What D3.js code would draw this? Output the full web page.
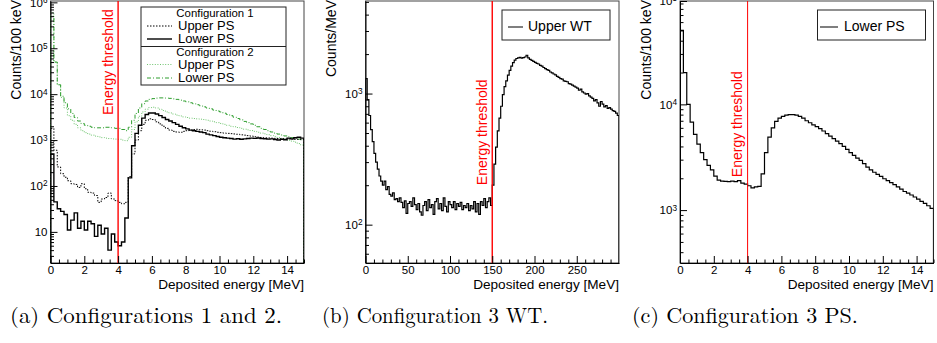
<!DOCTYPE html>
<html>
<head>
<meta charset="utf-8">
<script src="https://d3js.org/d3.v7.min.js"></script>
<style>
  body { margin: 0; background: #fff; }
  svg { display: block; font-family: 'Liberation Sans', Arial, Helvetica, sans-serif; }
</style>
</head>
<body>
<svg id="chart" width="937" height="343"></svg>
<script>
// Bin widths (MeV)
const psBinWidth = 0.2
const wtBinWidth = 2

// (a) Configuration 1 / Configuration 2, counts per bin, 0 - 15 MeV
const c1UpperPS = [
  1800, 600, 260, 185, 155, 130, 112, 108, 93, 112,
  87, 73, 70, 62, 44, 52, 56, 70, 52, 48,
  44, 41, 44, 160, 500, 1000, 1600, 2200, 2700, 2900,
  2800, 2500, 2250, 2000, 1800, 1650, 1550, 1500, 1480, 1550,
  1600, 1650, 1700, 1720, 1680, 1650, 1600, 1560, 1520, 1480,
  1450, 1420, 1400, 1380, 1360, 1340, 1300, 1280, 1250, 1220,
  1180, 1160, 1140, 1120, 1110, 1100, 1090, 1080, 1070, 1060,
  1060, 1050, 1040, 1030, 1020
]
const c1LowerPS = [
  500, 45, 32, 28, 24, 11, 18, 26, 12, 17,
  11, 17, 15, 8, 14, 9, 12, 4, 9, 6,
  5, 6, 20, 150, 750, 1400, 2100, 3000, 3600, 3900,
  3900, 3700, 3400, 3100, 2800, 2600, 2400, 2200, 2000, 1850,
  1750, 1650, 1600, 1550, 1500, 1450, 1350, 1300, 1250, 1200,
  1150, 1120, 1100, 1080, 1050, 1070, 1040, 1060, 1080, 1100,
  1090, 1110, 1080, 1070, 1050, 1060, 1030, 1000, 1040, 1020,
  1100, 1060, 1120, 1150, 1100
]
const c2UpperPS = [
  600000, 50000, 16000, 8500, 5000, 3400, 2700, 2200, 1850, 1600,
  1450, 1350, 1280, 1220, 1170, 1130, 1100, 1080, 1060, 1050,
  1040, 1000, 970, 1150, 1700, 2500, 3300, 4100, 4700, 5100,
  5200, 5000, 4700, 4400, 4100, 3900, 3700, 3500, 3350, 3200,
  3100, 3000, 2950, 2900, 2850, 2800, 2700, 2600, 2500, 2400,
  2300, 2200, 2100, 2000, 1950, 1880, 1800, 1730, 1670, 1610,
  1550, 1480, 1420, 1370, 1310, 1250, 1200, 1140, 1090, 1040,
  990, 950, 900, 840, 780
]
const c2LowerPS = [
  500000, 50000, 16000, 9000, 6500, 4800, 3800, 3100, 2600, 2300,
  2100, 2000, 1900, 1850, 1850, 1850, 1900, 1900, 1850, 1800,
  1800, 1700, 1600, 1900, 2700, 3800, 5000, 6200, 7100, 7700,
  8000, 8200, 8300, 8300, 8200, 8100, 7900, 7700, 7400, 7100,
  6800, 6500, 6200, 5900, 5600, 5300, 5000, 4800, 4500, 4300,
  4100, 3850, 3600, 3400, 3150, 2950, 2750, 2550, 2400, 2250,
  2100, 1950, 1800, 1700, 1600, 1500, 1420, 1350, 1290, 1230,
  1180, 1130, 1090, 1050, 1020
]

// (b) Configuration 3, upper water tank, counts/MeV, 0 - 300 MeV
const c3UpperWT = [
  1300, 900, 680, 530, 430, 350, 300, 265, 235, 215,
  200, 215, 185, 195, 170, 165, 175, 155, 158, 150,
  160, 148, 135, 152, 122, 145, 150, 138, 160, 142,
  130, 145, 125, 118, 140, 150, 128, 155, 135, 142,
  120, 150, 158, 132, 145, 128, 160, 138, 125, 150,
  142, 135, 150, 130, 145, 138, 148, 130, 140, 135,
  145, 128, 140, 132, 150, 125, 145, 120, 150, 140,
  158, 135, 150, 160, 140,
  200, 290, 390, 520, 650, 800, 980, 1130, 1250, 1380,
  1500, 1620, 1720, 1800, 1850, 1870, 1890, 1860, 1880, 1900,
  1960, 1870, 1820, 1790, 1760, 1730, 1700, 1680, 1640, 1620,
  1580, 1550, 1520, 1500, 1460, 1440, 1410, 1390, 1350, 1330,
  1300, 1290, 1250, 1240, 1230, 1190, 1180, 1160, 1140, 1120,
  1100, 1060, 1080, 1030, 1010, 990, 1000, 960, 940, 920,
  880, 900, 850, 800, 870, 830, 790, 810, 770, 780,
  760, 740, 730, 710, 680
]

// (c) Configuration 3, lower plastic scintillator
const c3LowerPS = [
  50000, 20000, 10000, 6800, 5200, 4200, 3500, 3000, 2650, 2400,
  2100, 1920, 1880, 1870, 1860, 1880, 1860, 1900, 1800, 1760,
  1700, 1620, 1660, 1680, 2200, 3500, 4900, 6000, 6900, 7400,
  7700, 7900, 8000, 8000, 7900, 7700, 7400, 7000, 6700, 6400,
  6150, 5900, 5600, 5300, 5000, 4750, 4500, 4250, 4000, 3750,
  3500, 3300, 3100, 2950, 2750, 2550, 2400, 2280, 2180, 2080,
  1980, 1900, 1820, 1740, 1660, 1580, 1500, 1450, 1390, 1330,
  1270, 1210, 1160, 1100, 1040
]

const thresholdPS = 4
const thresholdWT = 150

const xTicksPS = [0, 2, 4, 6, 8, 10, 12, 14]
const xTicksWT = [0, 50, 100, 150, 200, 250]
const yTicksA = [1e1, 1e2, 1e3, 1e4, 1e5, 1e6]
const yTicksB = [1e2, 1e3]
const yTicksC = [1e3, 1e4, 1e5]

const captions = ['(a) Configurations 1 and 2.', '(b) Configuration 3 WT.', '(c) Configuration 3 PS.']

// ---------------------------------------------------------------
const plotTop = 1
const plotW = 253.5
const plotH = 262
const svg = d3.select('#chart')

/**
 * Turn bin contents into the outline of a ROOT style histogram
 * @param  {Array}  values   bin contents
 * @param  {Number} binWidth width of a bin
 * @param  {Number} floor    value used for the closing edges
 * @return {Array}
 */
function histPoints(values, binWidth, floor) {
  let pts = [[0, floor]]
  values.forEach((v, i) => {
    pts.push([i * binWidth, v], [(i + 1) * binWidth, v])
  })
  pts.push([values.length * binWidth, floor])
  return pts
}

/**
 * Log minor ticks (2..9 of each decade) inside a domain
 */
function logMinors(domain) {
  let out = []
  for (let e = Math.floor(Math.log10(domain[0])); e <= Math.ceil(Math.log10(domain[1])); e++) {
    for (let m = 2; m < 10; m++) {
      let v = m * Math.pow(10, e)
      if (v >= domain[0] && v <= domain[1]) out.push(v)
    }
  }
  return out
}

/**
 * Draw one panel
 * @param  {Object} opt panel options
 * @return {void}
 */
function drawPanel(opt) {
  const g = svg.append('g')
    .attr('transform', `translate(${opt.left},${plotTop})`)

  const x = d3.scaleLinear().domain(opt.xDomain).range([0, plotW])
  const y = d3.scaleLog().domain(opt.yDomain).range([plotH, 0]).clamp(true)

  const clipId = 'clip-' + opt.id
  g.append('clipPath').attr('id', clipId)
    .append('rect')
    .attr('width', plotW)
    .attr('height', plotH)

  // frame
  g.append('rect')
    .attr('width', plotW)
    .attr('height', plotH)
    .attr('fill', 'none')
    .attr('stroke', '#444')
    .attr('stroke-width', 1)

  // histograms
  // ==========
  const line = d3.line()
    .x(d => x(d[0]))
    .y(d => y(d[1]))

  const hg = g.append('g').attr('clip-path', `url(#${clipId})`)
  opt.series.forEach(s => {
    hg.append('path')
      .attr('d', line(histPoints(s.values, s.binWidth, opt.yDomain[0])))
      .attr('fill', 'none')
      .attr('stroke', s.color)
      .attr('stroke-width', s.width)
      .attr('stroke-dasharray', s.dash)
  })

  // threshold
  // =========
  g.append('line')
    .attr('x1', x(opt.threshold))
    .attr('x2', x(opt.threshold))
    .attr('y1', 0)
    .attr('y2', plotH)
    .attr('stroke', '#ff0000')
    .attr('stroke-width', opt.thresholdWidth)

  g.append('text')
    .attr('transform', `translate(${x(opt.threshold) - 5.5},${y(opt.labelAt)}) rotate(-90)`)
    .attr('font-size', 14)
    .attr('fill', '#ff0000')
    .text('Energy threshold')

  // x axis
  // ======
  const gx = g.append('g')
    .attr('transform', `translate(0,${plotH})`)
    .call(d3.axisBottom(x).tickValues(opt.xTicks).tickSize(-7).tickSizeOuter(0).tickPadding(3))
  gx.append('g')
    .call(d3.axisBottom(x).tickValues(opt.xMinors).tickSize(-3.5).tickFormat(''))
    .select('.domain').remove()
  gx.selectAll('text').attr('font-size', 11.5).attr('fill', '#000')
    .attr('font-family', "'Liberation Sans', Arial, sans-serif")
  gx.selectAll('line, path').attr('stroke', '#000')

  // y axis
  // ======
  const gy = g.append('g')
    .call(d3.axisLeft(y).tickValues(opt.yTicks).tickSize(-7).tickSizeOuter(0).tickPadding(3))
  gy.append('g')
    .call(d3.axisLeft(y).tickValues(logMinors(opt.yDomain)).tickSize(-3.5).tickFormat(''))
    .select('.domain').remove()
  gy.selectAll('line, path').attr('stroke', '#000')
  gy.selectAll(':scope > .tick text').each(function (d) {
    const t = d3.select(this).text('')
      .attr('font-size', 11.5)
      .attr('fill', '#000')
      .attr('font-family', "'Liberation Sans', Arial, sans-serif")
    const e = Math.round(Math.log10(d))
    t.append('tspan').text('10')
    if (e !== 1) {
      t.append('tspan').attr('dy', '-0.45em').attr('font-size', '0.72em').text(e)
    }
  })

  // titles
  // ======
  g.append('text')
    .attr('x', plotW)
    .attr('y', 288)
    .attr('text-anchor', 'end')
    .attr('font-size', 13.6)
    .text('Deposited energy [MeV]')

  g.append('text')
    .attr('transform', `translate(-29.5,-1) rotate(-90)`)
    .attr('text-anchor', 'end')
    .attr('font-size', 14)
    .text(opt.yTitle)

  // legend
  // ======
  const lg = g.append('g')
    .attr('transform', `translate(${opt.legend.x},${opt.legend.y})`)
  lg.append('rect')
    .attr('width', opt.legend.w)
    .attr('height', opt.legend.h)
    .attr('fill', '#fff')
    .attr('stroke', '#222')
  opt.legend.rows.forEach(r => {
    if (r.divider !== undefined) {
      lg.append('line')
        .attr('x1', 0).attr('x2', opt.legend.w)
        .attr('y1', r.divider).attr('y2', r.divider)
        .attr('stroke', '#222')
    }
    if (r.header) {
      lg.append('text')
        .attr('x', r.x)
        .attr('y', r.y)
        .attr('text-anchor', 'middle')
        .attr('font-size', 11.4)
        .text(r.header)
      return
    }
    lg.append('line')
      .attr('x1', r.lx0).attr('x2', r.lx1)
      .attr('y1', r.y - 4).attr('y2', r.y - 4)
      .attr('stroke', r.color)
      .attr('stroke-width', r.width)
      .attr('stroke-dasharray', r.dash)
    lg.append('text')
      .attr('x', r.x)
      .attr('y', r.y)
      .attr('font-size', r.size)
      .text(r.label)
  })

  // caption
  svg.append('text')
    .attr('x', opt.caption.x)
    .attr('y', 323)
    .attr('font-family', "'Latin Modern Roman', 'CMU Serif', 'Liberation Serif', serif")
    .attr('font-size', 21.5)
    .attr('textLength', opt.caption.w)
    .attr('lengthAdjust', 'spacingAndGlyphs')
    .text(opt.caption.text)
}

const xMinorsPS = d3.range(0, 15.01, 0.5).filter(v => v % 2 !== 0)
const xMinorsWT = d3.range(0, 300, 10).filter(v => v % 50 !== 0)

const blackDot = '1.5,1.5'
const greenDot = '1,1.6'
const greenDashDot = '4,2,1,2'
const lightGreen = '#6fc46f'
const darkGreen = '#2e9e2e'

// (a)
drawPanel({
  id: 'a',
  left: 50.5,
  xDomain: [0, 15],
  yDomain: [2.1, 1.07e6],
  xTicks: xTicksPS,
  xMinors: xMinorsPS,
  yTicks: yTicksA,
  yTitle: 'Counts/100 keV',
  threshold: thresholdPS,
  thresholdWidth: 1.4,
  labelAt: 3500,
  series: [
    { values: c2UpperPS, binWidth: psBinWidth, color: lightGreen, width: 1, dash: greenDot },
    { values: c2LowerPS, binWidth: psBinWidth, color: darkGreen, width: 1, dash: greenDashDot },
    { values: c1UpperPS, binWidth: psBinWidth, color: '#000', width: 1, dash: blackDot },
    { values: c1LowerPS, binWidth: psBinWidth, color: '#000', width: 1.4, dash: null }
  ],
  legend: {
    x: 90.5, y: 6, w: 145, h: 78,
    rows: [
      { header: 'Configuration 1', x: 74, y: 10 },
      { label: 'Upper PS', x: 37, y: 23, lx0: 6, lx1: 31, color: '#000', width: 1, dash: blackDot, size: 13 },
      { label: 'Lower PS', x: 37, y: 36, lx0: 6, lx1: 31, color: '#000', width: 1.4, dash: null, size: 13 },
      { header: 'Configuration 2', x: 74, y: 49, divider: 39.5 },
      { label: 'Upper PS', x: 37, y: 61.5, lx0: 6, lx1: 31, color: lightGreen, width: 1, dash: greenDot, size: 13 },
      { label: 'Lower PS', x: 37, y: 75, lx0: 6, lx1: 31, color: darkGreen, width: 1, dash: greenDashDot, size: 13 }
    ]
  },
  caption: { x: 10, w: 272, text: captions[0] }
})

// (b)
drawPanel({
  id: 'b',
  left: 365.5,
  xDomain: [0, 300],
  yDomain: [51, 5080],
  xTicks: xTicksWT,
  xMinors: xMinorsWT,
  yTicks: yTicksB,
  yTitle: 'Counts/MeV',
  threshold: thresholdWT,
  thresholdWidth: 1.4,
  labelAt: 200,
  series: [
    { values: c3UpperWT, binWidth: wtBinWidth, color: '#000', width: 1.2, dash: null }
  ],
  legend: {
    x: 136.5, y: 9, w: 108, h: 30,
    rows: [
      { label: 'Upper WT', x: 26, y: 21, lx0: 6, lx1: 21, color: '#555', width: 1.5, dash: null, size: 14 }
    ]
  },
  caption: { x: 322, w: 226, text: captions[1] }
})

// (c)
drawPanel({
  id: 'c',
  left: 680,
  xDomain: [0, 15],
  yDomain: [316, 95000],
  xTicks: xTicksPS,
  xMinors: xMinorsPS,
  yTicks: yTicksC,
  yTitle: 'Counts/100 keV',
  threshold: thresholdPS,
  thresholdWidth: 1,
  labelAt: 2050,
  series: [
    { values: c3LowerPS, binWidth: psBinWidth, color: '#000', width: 1.2, dash: null }
  ],
  legend: {
    x: 137.5, y: 9, w: 108, h: 30,
    rows: [
      { label: 'Lower PS', x: 26.5, y: 21, lx0: 2.5, lx1: 20.5, color: '#555', width: 1.5, dash: null, size: 14 }
    ]
  },
  caption: { x: 632, w: 226, text: captions[2] }
})
</script>
</body>
</html>
